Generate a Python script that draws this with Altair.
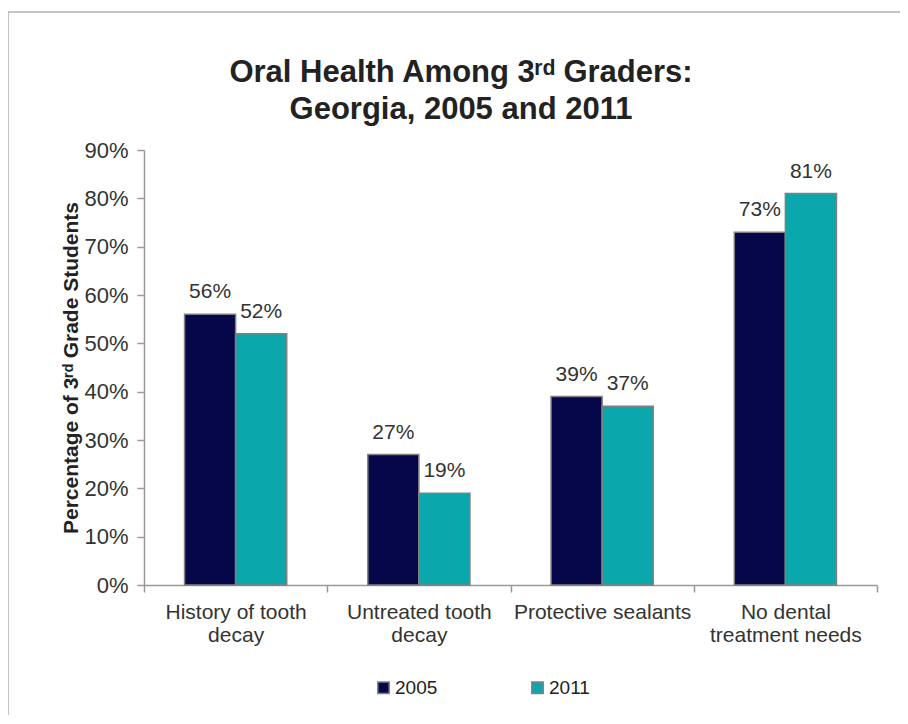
import altair as alt
import pandas as pd

categories = ["History of tooth decay", "Untreated tooth decay", "Protective sealants", "No dental treatment needs"]
years = ["2005", "2011"]
values_2005 = [0.56, 0.27, 0.39, 0.73]
values_2011 = [0.52, 0.19, 0.37, 0.81]
label_lines = {
    "History of tooth decay": ["History of tooth", "decay"],
    "Untreated tooth decay": ["Untreated tooth", "decay"],
    "Protective sealants": ["Protective sealants"],
    "No dental treatment needs": ["No dental", "treatment needs"],
}
title_lines = ["Oral Health Among 3ʳᵈ Graders:", "Georgia, 2005 and 2011"]
colors = ["#06064A", "#0AA8AD"]

rows = []
for c, a, b in zip(categories, values_2005, values_2011):
    rows.append({"category": c, "year": years[0], "value": a})
    rows.append({"category": c, "year": years[1], "value": b})
df = pd.DataFrame(rows)

W, H = 733, 435
PL, PT, PR, PB = 136, 142, 23, 130

expr = ""
for k, v in label_lines.items():
    arr = "[" + ",".join("'" + s + "'" for s in v) + "]"
    expr += f"datum.label == '{k}' ? {arr} : "
expr += "datum.label"

FONT = "Liberation Sans"

x = alt.X(
    "category:N",
    sort=categories,
    scale=alt.Scale(paddingInner=0, paddingOuter=0),
    axis=alt.Axis(
        title=None, labelAngle=0, labelExpr=expr, tickBand="extent",
        labelFontSize=21, labelColor="#333333", labelFont=FONT, labelPadding=9,
        labelLineHeight=23, labelBaseline="top",
        domainColor="#999999", domainWidth=1.5, tickColor="#999999", tickWidth=1.5, tickSize=7,
    ),
)
xoff = alt.XOffset("year:N", sort=years, scale=alt.Scale(paddingOuter=0.794, paddingInner=0))
y = alt.Y(
    "value:Q",
    scale=alt.Scale(domain=[0, 0.9], nice=False),
    axis=alt.Axis(
        title="Percentage of 3ʳᵈ Grade Students", format=".0%", values=[i / 10 for i in range(10)],
        grid=False, labelFontSize=22, labelColor="#333333", labelFont=FONT, labelPadding=9,
        titleFontSize=21, titleFont=FONT, titleFontWeight="bold", titleColor="#222222", titlePadding=2,
        domainColor="#999999", domainWidth=1.5, tickColor="#999999", tickWidth=1.5, tickSize=7,
    ),
)

base = alt.Chart(df)
bars = base.mark_bar(stroke="#808080", strokeWidth=1.5).encode(
    x=x, xOffset=xoff, y=y,
    color=alt.Color(
        "year:N", sort=years, scale=alt.Scale(domain=years, range=colors),
        legend=alt.Legend(
            title=None, orient="none", direction="horizontal", legendX=230, legendY=528,
            symbolType="square", symbolSize=130, symbolStrokeColor="#808080", symbolStrokeWidth=1.5,
            labelFontSize=19, labelFont=FONT, labelColor="#222222", columnPadding=90, labelOffset=2,
        ),
    ),
)
texts = base.mark_text(baseline="bottom", dy=-12, fontSize=21, font=FONT, color="#333333").encode(
    x=x, xOffset=xoff, y=y, text=alt.Text("value:Q", format=".0%"),
)

one = pd.DataFrame({"a": [0]})
title = alt.Chart(one).mark_text(
    text=title_lines, fontSize=31, font=FONT, fontWeight="bold", color="#222222",
    align="center", baseline="top", lineHeight=37,
).encode(x=alt.value(317), y=alt.value(-92))

frame_left = alt.Chart(one).mark_rule(color="#b0b0b0", strokeWidth=1.5).encode(
    x=alt.value(-PL), y=alt.value(-PT + 4), y2=alt.value(H + PB + 20)
)
frame_top = alt.Chart(one).mark_rule(color="#b0b0b0", strokeWidth=1.5).encode(
    x=alt.value(-PL), x2=alt.value(W + PR + 20), y=alt.value(-PT + 4)
)

chart = alt.layer(bars, texts, title, frame_left, frame_top).properties(
    width=W, height=H,
    autosize=alt.AutoSizeParams(type="none"),
    padding={"left": PL, "top": PT, "right": PR, "bottom": PB},
).configure(background="white").configure_view(stroke=None)

chart.save("out.html", embed_options={"renderer": "svg", "actions": False})
